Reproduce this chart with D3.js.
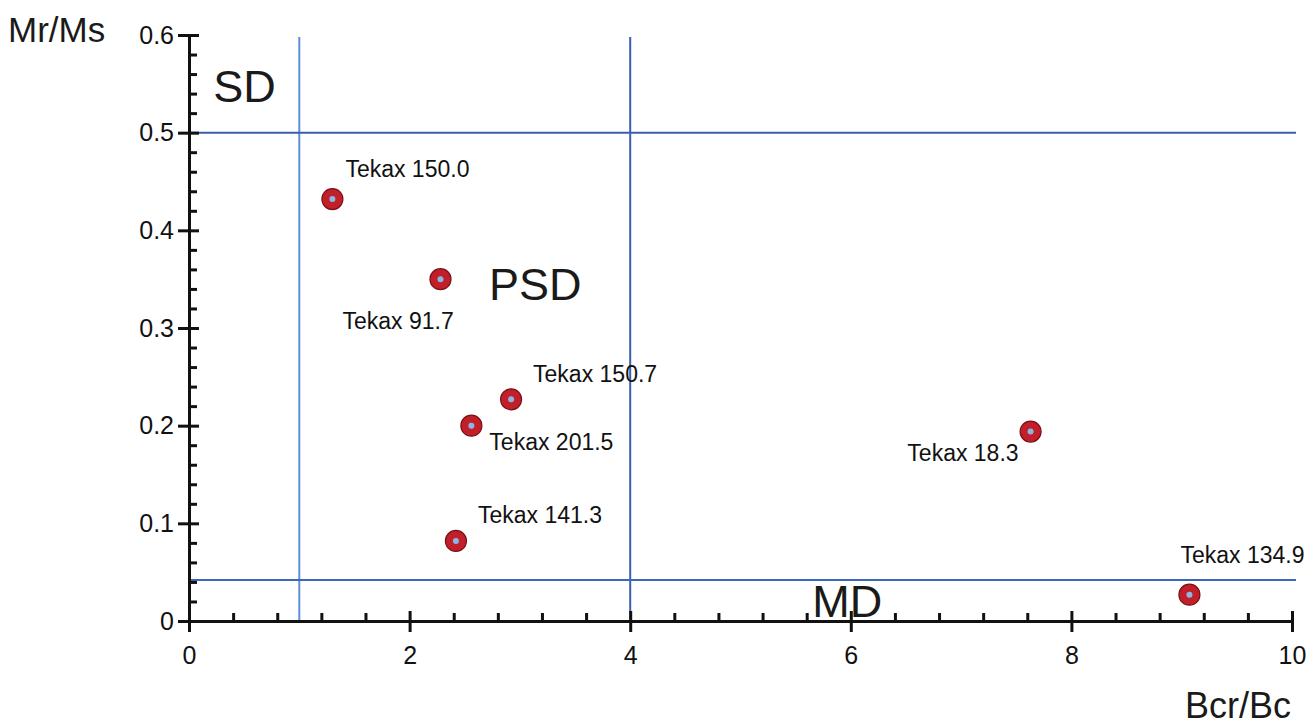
<!DOCTYPE html>
<html>
<head>
<meta charset="utf-8">
<script src="https://cdn.jsdelivr.net/npm/d3@7"></script>
<style>
  html, body { margin: 0; padding: 0; background: #fff; }
  svg { display: block; font-family: "Liberation Sans", Arial, sans-serif; }
</style>
</head>
<body>
<svg id="chart" width="1314" height="728"></svg>
<script>
// Day plot (hysteresis ratios): remanence ratio vs coercivity ratio
const sampleNames = ["Tekax 150.0", "Tekax 91.7", "Tekax 150.7", "Tekax 201.5", "Tekax 141.3", "Tekax 18.3", "Tekax 134.9"];
const bcrBc = [1.30, 2.28, 2.92, 2.56, 2.42, 7.63, 9.07];
const mrMs  = [0.432, 0.350, 0.227, 0.200, 0.082, 0.194, 0.027];

const xTicks = [0, 2, 4, 6, 8, 10];
const yTicks = [0, 0.1, 0.2, 0.3, 0.4, 0.5, 0.6];
const yTickLabels = ["0", "0.1", "0.2", "0.3", "0.4", "0.5", "0.6"];

// Domain boundaries (SD / PSD / MD)
const bcrLimits = [1, 4];
const mrLimits = [0.5, 0.042];

const regions = [
  { name: "SD",  x: 0.22, y: 0.527 },
  { name: "PSD", x: 2.72, y: 0.325 },
  { name: "MD",  x: 5.65, y: 0.0   }
];

// label offsets relative to each marker (dx, dy, anchor)
const labelPlace = [
  { dx: 13,  dy: -22, anchor: "start" },
  { dx: -98, dy: 50,  anchor: "start" },
  { dx: 22,  dy: -17, anchor: "start" },
  { dx: 18,  dy: 24,  anchor: "start" },
  { dx: 22,  dy: -18, anchor: "start" },
  { dx: -12, dy: 29,  anchor: "end"   },
  { dx: -9,  dy: -32, anchor: "start" }
];

const svg = d3.select("#chart");
const plotLeft = 189, plotRight = 1292, plotTop = 35, plotBottom = 621;

const x = d3.scaleLinear().domain([0, 10]).range([plotLeft, plotRight]);
const y = d3.scaleLinear().domain([0, 0.6]).range([plotBottom, plotTop]);

const blueDark = "#3a5fae";
const blueLight = "#5f8fd2";

// boundary lines
svg.append("line")
  .attr("x1", x(bcrLimits[0])).attr("x2", x(bcrLimits[0]))
  .attr("y1", y(0.598)).attr("y2", y(0))
  .attr("stroke", blueLight).attr("stroke-width", 2);
svg.append("line")
  .attr("x1", x(bcrLimits[1])).attr("x2", x(bcrLimits[1]))
  .attr("y1", y(0.598)).attr("y2", y(0))
  .attr("stroke", blueDark).attr("stroke-width", 2);
svg.append("line")
  .attr("x1", x(0)).attr("x2", x(10) + 4)
  .attr("y1", y(mrLimits[0])).attr("y2", y(mrLimits[0]))
  .attr("stroke", blueDark).attr("stroke-width", 2);
svg.append("line")
  .attr("x1", x(0)).attr("x2", x(10) + 4)
  .attr("y1", y(mrLimits[1])).attr("y2", y(mrLimits[1]))
  .attr("stroke", "#3d68b8").attr("stroke-width", 2);

// minor ticks
const xMinor = d3.range(0, 10.001, 0.4).filter(v => Math.abs(v / 2 - Math.round(v / 2)) > 1e-6);
const yMinor = d3.range(0, 0.6001, 0.02).filter(v => Math.abs(v * 10 - Math.round(v * 10)) > 1e-6);

const xMinorAxis = svg.append("g").attr("transform", `translate(0,${plotBottom})`)
  .call(d3.axisBottom(x).tickValues(xMinor).tickSize(-8).tickFormat(""));
const yMinorAxis = svg.append("g").attr("transform", `translate(${plotLeft},0)`)
  .call(d3.axisLeft(y).tickValues(yMinor).tickSize(-8).tickFormat(""));
[xMinorAxis, yMinorAxis].forEach(g => {
  g.select(".domain").remove();
  g.selectAll("line").attr("stroke", "#111").attr("stroke-width", 3);
});

// major axes
const xAxis = svg.append("g").attr("transform", `translate(0,${plotBottom})`)
  .call(d3.axisBottom(x).tickValues(xTicks).tickSize(11).tickSizeOuter(0).tickPadding(14).tickFormat(d3.format("d")));
xAxis.selectAll(".tick line").attr("y1", -10);
const yAxis = svg.append("g").attr("transform", `translate(${plotLeft},0)`)
  .call(d3.axisLeft(y).tickValues(yTicks).tickSize(11).tickSizeOuter(0).tickPadding(4)
    .tickFormat((d, i) => yTickLabels[i]));
yAxis.selectAll(".tick line").attr("x1", 10);

[xAxis, yAxis].forEach(g => {
  g.select(".domain").attr("stroke", "#111").attr("stroke-width", 3);
  g.selectAll(".tick line").attr("stroke", "#111").attr("stroke-width", 3);
  g.selectAll("text").attr("font-size", 25).attr("fill", "#111");
});

// axis titles
svg.append("text").attr("x", 8).attr("y", 42)
  .attr("font-size", 35).attr("fill", "#1a1a1a").text("Mr/Ms");
svg.append("text").attr("x", 1185).attr("y", 718)
  .attr("font-size", 36).attr("fill", "#1a1a1a").text("Bcr/Bc");

// domain region names
svg.selectAll(".region").data(regions).enter().append("text")
  .attr("class", "region")
  .attr("x", d => x(d.x)).attr("y", d => y(d.y) - 4)
  .attr("font-size", 45).attr("fill", "#1a1a1a")
  .text(d => d.name);

// samples
const pts = sampleNames.map((n, i) => ({ name: n, bx: bcrBc[i], my: mrMs[i], lp: labelPlace[i] }));

const pg = svg.selectAll(".pt").data(pts).enter().append("g").attr("class", "pt")
  .attr("transform", d => `translate(${x(d.bx)},${y(d.my)})`);
pg.append("circle").attr("r", 10.5).attr("fill", "#c1202b").attr("stroke", "#7a1015").attr("stroke-width", 1.2);
pg.append("circle").attr("r", 3).attr("fill", "#8ab8e6");
pg.append("text")
  .attr("x", d => d.lp.dx).attr("y", d => d.lp.dy)
  .attr("text-anchor", d => d.lp.anchor)
  .attr("font-size", 23).attr("fill", "#111")
  .text(d => d.name);
</script>
</body>
</html>
